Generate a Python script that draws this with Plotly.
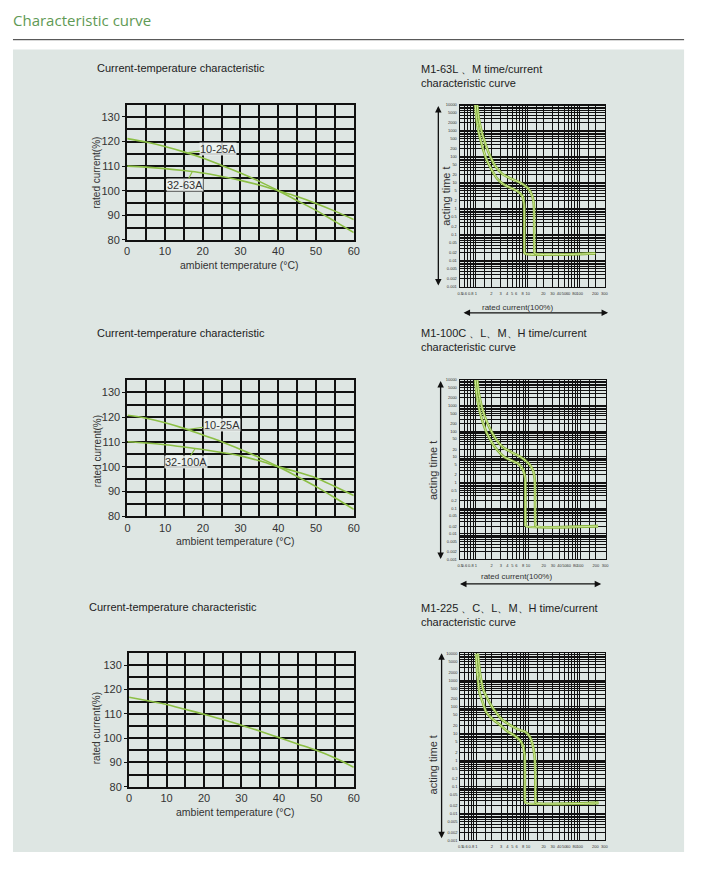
import math
import plotly.graph_objects as go

# ---- current / temperature data (left column) ----
temp = [0, 5, 10, 15, 20, 25, 30, 35, 40, 45, 50, 55, 60]
temp_ticks = [0, 10, 20, 30, 40, 50, 60]
rc_ticks = [80, 90, 100, 110, 120, 130]

rc1_10_25A = [121.2, 119.8, 118.0, 115.8, 113.3, 110.3, 107.2, 103.8, 100.0, 96.0, 92.0, 87.5, 83.0]
rc1_32_63A = [110.0, 109.6, 109.0, 108.2, 107.2, 105.8, 104.2, 102.3, 100.0, 97.6, 94.8, 91.7, 88.3]
rc2_10_25A = [120.8, 119.6, 117.8, 115.5, 112.8, 110.1, 107.0, 103.7, 100.0, 96.1, 92.0, 87.5, 82.8]
rc2_32_100A = [110.1, 109.6, 108.9, 108.0, 107.0, 105.8, 104.4, 102.4, 100.0, 97.9, 95.5, 92.0, 88.4]
rc3 = [116.8, 115.3, 113.8, 111.8, 109.8, 107.6, 105.3, 102.8, 100.2, 97.6, 95.0, 91.8, 88.0]

# ---- time / current data (right column) ----
t_ticks = [10000, 5000, 2000, 1000, 500, 200, 100, 50, 20, 10, 5, 2, 1,
           0.5, 0.2, 0.1, 0.05, 0.02, 0.01, 0.005, 0.002, 0.001]
t_ticktext = ["10000", "5000", "2000", "1000", "500", "200", "100", "50", "20", "10", "5", "2", "1",
              "0.5", "0.2", "0.1", "0.05", "0.02", "0.01", "0.005", "0.002", "0.001"]
i_ticks = [0.5, 0.6, 0.8, 1, 2, 3, 4, 5, 6, 8, 10, 20, 30, 40, 50, 60, 80, 100, 200, 300]

tc1_low_x = [0.97, 1.03, 1.12, 1.3, 1.6, 2.05, 2.6, 3.5, 5.0, 6.5, 7.9, 8.5, 8.6, 8.6, 8.8, 200]
tc1_low_t = [10000, 3000, 1000, 300, 80, 30, 14, 8.5, 6.0, 4.6, 3.0, 1.5, 0.5, 0.03, 0.019, 0.019]
tc1_high_x = [1.06, 1.14, 1.28, 1.5, 1.8, 2.35, 3.2, 4.5, 6.5, 8.6, 10.6, 12.3, 13.1, 13.3, 13.4, 13.7, 200]
tc1_high_t = [10000, 3000, 1000, 350, 130, 45, 22, 15, 11, 8, 5.5, 3.0, 1.5, 0.5, 0.03, 0.019, 0.019]

tc2_low_x = [0.97, 1.03, 1.12, 1.3, 1.6, 2.05, 2.6, 3.5, 5.0, 6.5, 8.1, 8.8, 8.9, 8.9, 9.1, 220]
tc2_low_t = [10000, 3000, 1000, 300, 90, 35, 18, 10, 7, 5.5, 3, 1.5, 0.5, 0.03, 0.02, 0.02]
tc2_high_x = [1.06, 1.14, 1.28, 1.5, 1.85, 2.45, 3.3, 4.6, 6.6, 8.8, 10.8, 12.6, 13.4, 13.6, 13.7, 14.0, 220]
tc2_high_t = [10000, 3000, 1000, 350, 130, 48, 24, 16, 11, 7.5, 5, 2.8, 1.4, 0.5, 0.03, 0.02, 0.02]

tc3_low_x = [0.98, 1.04, 1.15, 1.32, 1.55, 2.05, 2.96, 4.0, 5.4, 7.0, 7.9, 8.6, 8.7, 8.7, 8.9, 230]
tc3_low_t = [10000, 2000, 345, 150, 63, 35, 20, 12, 8.5, 5.5, 3.6, 1.5, 0.5, 0.035, 0.025, 0.025]
tc3_high_x = [1.07, 1.17, 1.35, 1.65, 2.25, 3.2, 4.6, 6.5, 8.9, 10.6, 12.1, 13.5, 13.8, 13.9, 14.1, 230]
tc3_high_t = [10000, 2000, 460, 200, 72, 32, 20, 14, 11.5, 8, 4.2, 1.2, 0.3, 0.035, 0.025, 0.025]

# page is 704x871, body margin 8px -> figure 688x855
OFF = 8
W, H = 704 - 2 * OFF, 871 - 2 * OFF
PANEL = "#dee6e3"
GRID = "#111111"
FONT = "Liberation Sans, Arial, sans-serif"


def fx(px):
    return (px - OFF) / W


def fy(py):
    return 1 - (py - OFF) / H


# log grid lines inside every decade
def log_grid(lo_exp, hi_exp, lo, hi, steps):
    vals = []
    for e in range(lo_exp, hi_exp + 1):
        for m in steps:
            v = m * 10 ** e
            if lo <= v <= hi:
                vals.append(v)
    return vals


y_grid = log_grid(-3, 4, 0.001, 10000, [1, 2, 3, 4, 5, 6, 7, 8, 9])
x_grid = log_grid(-1, 2, 0.49, 310, [1, 1.5, 2, 3, 4, 5, 6, 7, 8, 9])

fig = go.Figure()

left_boxes = [(125.7, 355.3, 102.7, 239.3), (126, 355.3, 381, 518.7), (127.7, 355.3, 656.7, 792)]
right_boxes = [(462.7, 610, 102.7, 286.7), (462.7, 610.7, 381, 562.3), (463.3, 610, 657.3, 846)]

layout = {}
for i, (x0, x1, y0, y1) in enumerate(left_boxes, start=1):
    s = "" if i == 1 else str(i)
    common = dict(showgrid=True, gridcolor=GRID, gridwidth=2.2, showline=True, linecolor=GRID,
                  linewidth=2.2, mirror=True, tickcolor=GRID,
                  tickfont=dict(family=FONT, size=11, color="#333"), zeroline=False, fixedrange=True)
    layout["xaxis" + s] = dict(domain=[fx(x0), fx(x1)], anchor="y" + s, range=[0, 60],
                               tickvals=temp_ticks, ticks="",
                               minor=dict(dtick=5, tick0=0, showgrid=True, gridcolor=GRID, gridwidth=2.2),
                               **common)
    layout["yaxis" + s] = dict(domain=[fy(y1), fy(y0)], anchor="x" + s, range=[80, 135],
                               tickvals=rc_ticks, ticks="outside", ticklen=3,
                               minor=dict(dtick=5, tick0=80, showgrid=True, gridcolor=GRID, gridwidth=2.2),
                               **common)

for j, (x0, x1, y0, y1) in enumerate(right_boxes, start=4):
    s = str(j)
    common = dict(type="log", showgrid=True, gridcolor=GRID, gridwidth=1.1, showline=True,
                  linecolor=GRID, linewidth=1.2, mirror=True, ticks="", zeroline=False,
                  tickfont=dict(family=FONT, size=4, color="#333"), fixedrange=True)
    layout["xaxis" + s] = dict(domain=[fx(x0), fx(x1)], anchor="y" + s,
                               range=[math.log10(0.49), math.log10(310)],
                               tickvals=i_ticks, ticktext=[str(v) for v in i_ticks], tickangle=0,
                               ticklabelstandoff=2,
                               minor=dict(tickvals=x_grid, showgrid=True, gridcolor=GRID, gridwidth=1.1),
                               **common)
    layout["yaxis" + s] = dict(domain=[fy(y1), fy(y0)], anchor="x" + s, range=[-3, 4],
                               tickvals=t_ticks, ticktext=t_ticktext, ticklabelstandoff=1,
                               minor=dict(tickvals=y_grid, showgrid=True, gridcolor=GRID, gridwidth=1.1),
                               **common)

# left curves
line_green = "#8cbf45"
for s, ys in [("", rc1_10_25A), ("", rc1_32_63A), ("2", rc2_10_25A), ("2", rc2_32_100A), ("3", rc3)]:
    fig.add_trace(go.Scatter(x=temp, y=ys, mode="lines", line=dict(color=line_green, width=1.6, shape="spline"),
                             xaxis="x" + s, yaxis="y" + s, hoverinfo="skip"))

# right curves: darker edge + pale core
for s, cx, ct in [("4", tc1_low_x, tc1_low_t), ("4", tc1_high_x, tc1_high_t),
                  ("5", tc2_low_x, tc2_low_t), ("5", tc2_high_x, tc2_high_t),
                  ("6", tc3_low_x, tc3_low_t), ("6", tc3_high_x, tc3_high_t)]:
    fig.add_trace(go.Scatter(x=cx, y=ct, mode="lines",
                             line=dict(color="#86b33c", width=2.6, shape="spline", smoothing=0.5),
                             xaxis="x" + s, yaxis="y" + s, hoverinfo="skip"))
    fig.add_trace(go.Scatter(x=cx, y=ct, mode="lines",
                             line=dict(color="#d4ea9c", width=1.0, shape="spline", smoothing=0.5),
                             xaxis="x" + s, yaxis="y" + s, hoverinfo="skip"))

ann = []


def text(px, py, t, size=11, color="#222", xanchor="left", yanchor="middle", angle=0, family=FONT):
    ann.append(dict(x=fx(px), y=fy(py), xref="paper", yref="paper", text=t, showarrow=False,
                    xanchor=xanchor, yanchor=yanchor, textangle=angle, align="left", borderpad=0,
                    font=dict(family=family, size=size, color=color)))


text(9, 17, "Characteristic curve", size=15, color="#5f9a55", family="Open Sans, Noto Sans, sans-serif")

for py in (66, 333):
    text(94, py, "Current-temperature characteristic")
text(86, 610, "Current-temperature characteristic")

text(422, 74, "M1-63L 、M time/current<br>characteristic curve")
text(422, 341, "M1-100C 、L、M、H time/current<br>characteristic curve")
text(422, 618, "M1-225 、C、L、M、H time/current<br>characteristic curve")

for py in (171.7, 453, 733):
    text(95, py, "rated current(%)", size=10, color="#333", xanchor="center", angle=-90)
for px, py in ((239.3, 265), (235, 544), (235, 817.7)):
    text(px, py, "ambient temperature (°C)", size=10.5, color="#333", xanchor="center")

for px, py in ((448.5, 195), (435.5, 472), (436, 770)):
    text(px, py, "acting time t", size=11, color="#333", xanchor="center", angle=-90)
for px, py in ((521.7, 307.5), (520, 579.5)):
    text(px, py, "rated current(100%)", size=8, color="#333", xanchor="center")

# double-headed arrows beside the log charts
for px, py0, py1 in ((441, 104, 285), (443.3, 382, 561.5), (444.3, 657, 843.5)):
    ann.append(dict(x=fx(px), y=fy(py0), xref="paper", yref="paper", ax=0, ay=py1 - py0,
                    text="", showarrow=True, arrowhead=2, arrowsize=1, arrowwidth=1.3,
                    arrowside="end+start", arrowcolor="#111"))
for py, px0, px1 in ((313, 467, 613), (587, 463.3, 606)):
    ann.append(dict(x=fx(px1), y=fy(py), xref="paper", yref="paper", ax=-(px1 - px0), ay=0,
                    text="", showarrow=True, arrowhead=2, arrowsize=1, arrowwidth=1.3,
                    arrowside="end+start", arrowcolor="#111"))

# curve labels with leader lines
for s, x, y, t, ax, ay in [("", 16.2, 115.5, "10-25A", 30, -4), ("", 17.2, 107.6, "32-63A", -7, 13),
                           ("2", 15.7, 115.0, "10-25A", 35, -5), ("2", 18.0, 107.5, "32-100A", -9, 14)]:
    ann.append(dict(x=x, y=y, xref="x" + s, yref="y" + s, text=t, showarrow=True, arrowhead=0,
                    arrowwidth=1.2, arrowcolor=line_green, ax=ax, ay=ay,
                    bgcolor="rgba(238,243,241,0.85)", borderpad=0,
                    font=dict(family=FONT, size=11, color="#333")))

shapes = [
    dict(type="line", xref="paper", yref="paper", x0=fx(10), x1=fx(690), y0=fy(37), y1=fy(37),
         line=dict(color="#333", width=1)),
    dict(type="rect", xref="paper", yref="paper", x0=fx(10), x1=fx(690), y0=fy(858), y1=fy(47),
         fillcolor=PANEL, line=dict(width=0), layer="below"),
]

fig.update_layout(width=W, height=H, margin=dict(l=0, r=0, t=0, b=0), paper_bgcolor="white",
                  plot_bgcolor=PANEL, showlegend=False, annotations=ann, shapes=shapes, **layout)

fig.write_html("out.html")
